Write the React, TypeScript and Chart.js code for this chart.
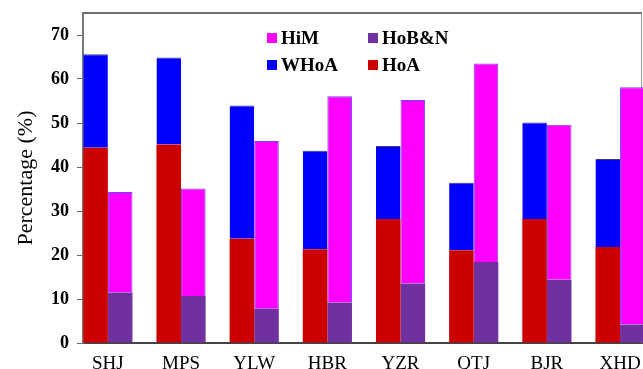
import React, { useEffect, useRef } from "react";
import { Chart, registerables } from "chart.js";

Chart.register(...registerables);

const categories = ["SHJ", "MPS", "YLW", "HBR", "YZR", "QTJ", "BJR", "XHD"];
const hoA = [44.4, 45.1, 23.7, 21.3, 28.2, 21.1, 28.2, 21.8];
const wHoA = [21.2, 19.8, 30.3, 22.4, 16.6, 15.3, 21.9, 20.0];
const hoBN = [11.5, 10.7, 7.8, 9.2, 13.5, 18.4, 14.4, 4.2];
const hiM = [22.8, 24.4, 38.1, 46.9, 41.7, 45.1, 35.2, 53.9];
const yTicks = [0, 10, 20, 30, 40, 50, 60, 70];

const legendItems = [
  { label: "HiM", color: "#FF00FF" },
  { label: "HoB&N", color: "#7030A0" },
  { label: "WHoA", color: "#0000FF" },
  { label: "HoA", color: "#CC0000" },
];

const SERIF = "'Liberation Serif', 'Times New Roman', serif";

const toXY = (arr: number[]) => arr.map((v, i) => ({ x: i, y: v }));

const boxPlugin = {
  id: "boxPlugin",
  beforeDatasetsDraw(chart: any) {
    const { ctx, chartArea } = chart;
    ctx.save();
    ctx.strokeStyle = "#6e6e6e";
    ctx.lineWidth = 2;
    ctx.beginPath();
    ctx.moveTo(chartArea.left, chartArea.top);
    ctx.lineTo(chartArea.right, chartArea.top);
    ctx.stroke();
    ctx.strokeStyle = "#9a9a9a";
    ctx.lineWidth = 1;
    ctx.beginPath();
    ctx.moveTo(chartArea.right - 0.5, chartArea.top);
    ctx.lineTo(chartArea.right - 0.5, chartArea.bottom);
    ctx.stroke();
    ctx.restore();
  },
};

const legendPlugin = {
  id: "customLegend",
  afterDraw(chart: any) {
    const { ctx } = chart;
    const cols = [267, 368];
    const rows = [38, 65];
    ctx.save();
    ctx.font = `bold 19px ${SERIF}`;
    ctx.textBaseline = "middle";
    ctx.textAlign = "left";
    legendItems.forEach((it, i) => {
      const x = cols[i % 2];
      const y = rows[Math.floor(i / 2)];
      ctx.fillStyle = it.color;
      ctx.fillRect(x, y - 5, 10, 10);
      ctx.fillStyle = "#000";
      ctx.fillText(it.label, x + 14, y + 1);
    });
    ctx.restore();
  },
};

export default function App() {
  const ref = useRef<HTMLCanvasElement | null>(null);
  useEffect(() => {
    if (!ref.current) return;
    const chart = new Chart(ref.current, {
      type: "bar",
      data: {
        datasets: [
          {
            label: "HoA",
            data: toXY(hoA),
            backgroundColor: "#CC0000",
            borderWidth: 0,
            stack: "L",
            clip: false,
          },
          {
            label: "HoB&N",
            data: toXY(hoBN),
            backgroundColor: "#7030A0",
            borderWidth: 0,
            stack: "R",
            clip: false,
          },
          {
            label: "WHoA",
            data: toXY(wHoA),
            backgroundColor: "#0000FF",
            borderColor: "#3a3a7a",
            borderWidth: { top: 1, left: 0, right: 0, bottom: 0 },
            stack: "L",
            clip: false,
          },
          {
            label: "HiM",
            data: toXY(hiM),
            backgroundColor: "#FF00FF",
            borderColor: "#7040FF",
            borderWidth: 1,
            stack: "R",
            clip: false,
          },
        ] as any,
      },
      options: {
        animation: false,
        responsive: false,
        maintainAspectRatio: false,
        layout: { padding: { top: 13, right: 1, left: 0, bottom: 0 } },
        datasets: {
          bar: { barPercentage: 1, categoryPercentage: 0.672 },
        },
        plugins: {
          legend: { display: false },
          tooltip: { enabled: false },
        },
        scales: {
          x: {
            type: "linear",
            min: -0.34,
            max: 7.3,
            offset: false,
            stacked: true,
            grid: { display: false, offset: false },
            border: { display: true, color: "#444444", width: 2 },
            afterBuildTicks: (scale: any) => {
              scale.ticks = categories.map((_, i) => ({ value: i }));
            },
            afterFit: (scale: any) => {
              scale.height = 26;
              scale.paddingLeft = 0;
              scale.paddingRight = 0;
            },
            ticks: {
              autoSkip: false,
              maxRotation: 0,
              padding: 2,
              color: "#000",
              font: { family: SERIF, size: 19 },
              callback: (v: any) => categories[Math.round(Number(v))] ?? "",
            },
          },
          y: {
            min: 0,
            max: 75,
            stacked: true,
            afterBuildTicks: (scale: any) => {
              scale.ticks = yTicks.map((v) => ({ value: v }));
            },
            afterFit: (scale: any) => {
              scale.width = 83;
              scale.paddingTop = 0;
              scale.paddingBottom = 0;
            },
            grid: {
              display: true,
              drawOnChartArea: false,
              drawTicks: true,
              tickLength: 6,
              color: "#666666",
            },
            border: { display: true, color: "#777777", width: 2 },
            ticks: {
              padding: 8,
              color: "#000",
              font: { family: SERIF, size: 18, weight: "bold" },
            },
            title: {
              display: true,
              text: "Percentage (%)",
              color: "#000",
              font: { family: SERIF, size: 22 },
              padding: { top: 13, bottom: 0 },
            },
          },
        },
      } as any,
      plugins: [boxPlugin, legendPlugin],
    });
    return () => chart.destroy();
  }, []);
  return (
    <div style={{ position: "absolute", left: 0, top: 0, width: 643, height: 369, overflow: "hidden" }}>
      <canvas ref={ref} width={643} height={369} />
    </div>
  );
}
